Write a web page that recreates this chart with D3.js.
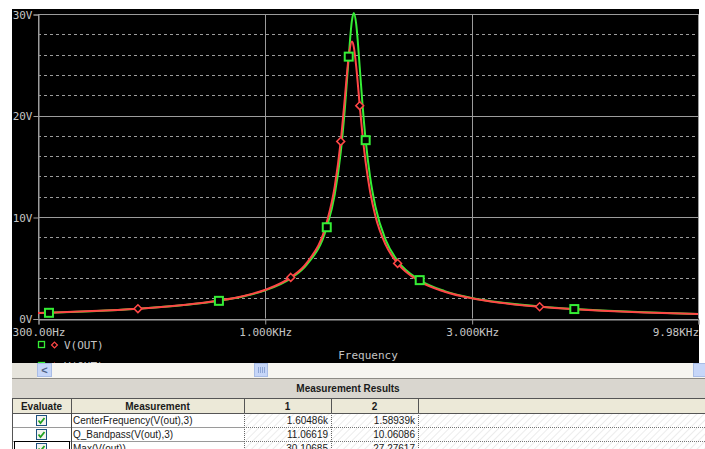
<!DOCTYPE html>
<html>
<head>
<meta charset="utf-8">
<script src="https://cdnjs.cloudflare.com/ajax/libs/d3/7.8.5/d3.min.js"></script>
<style>
  body { margin: 0; background: #fff; }
  svg { display: block; }
</style>
</head>
<body>
<svg id="chart"></svg>
<script>
// Sweep points (Hz)
const freq = [300, 318, 400, 510, 650, 784, 900, 1000, 1148, 1250, 1390, 1450, 1497, 1530, 1562, 1589, 1605, 1625, 1656, 1680, 1709, 1750, 1800, 1900, 2025, 2277, 2600, 3000, 3500, 4305, 5175, 6000, 7500, 9980];
// V(OUT) run 1 (green) and run 2 (red), volts
const vGreen = [0.53, 0.56, 0.72, 0.96, 1.32, 1.74, 2.22, 2.76, 3.95, 5.30, 8.99, 12.21, 16.37, 20.66, 25.8, 29.38, 30.1, 29.03, 24.74, 21.17, 17.57, 13.92, 11.01, 7.75, 5.69, 3.78, 2.70, 2.03, 1.58, 1.18, 0.93, 0.78, 0.61, 0.45];
const vRed = [0.53, 0.57, 0.73, 0.97, 1.33, 1.77, 2.25, 2.81, 4.05, 5.48, 9.47, 13.0, 17.45, 21.7, 25.79, 27.28, 26.74, 24.86, 20.97, 18.15, 15.37, 12.48, 10.08, 7.27, 5.43, 3.66, 2.64, 1.99, 1.55, 1.16, 0.92, 0.77, 0.60, 0.44];
// where the trace symbols sit
const greenMarks = [318, 784, 1390, 1562, 1709, 2277, 5175];
const redMarks = [510, 1148, 1497, 1656, 2025, 4305];

const xTicks = [300, 1000, 3000, 9980];
const xTickLabels = ["300.00Hz", "1.000KHz", "3.000KHz", "9.98KHz"];
const yTicks = [0, 10, 20, 30];

// measurement table
const columns = ["Evaluate", "Measurement", "1", "2"];
const measNames = ["CenterFrequency(V(out),3)", "Q_Bandpass(V(out),3)", "Max(V(out))"];
const run1 = ["1.60486k", "11.06619", "30.10685"];
const run2 = ["1.58939k", "10.06086", "27.27617"];

const W = 705, H = 449;
const plot = { left: 38, right: 698, top: 14, bottom: 318.5 };
const mono = "'DejaVu Sans Mono', 'Liberation Mono', monospace";
const sans = "Tahoma, 'Liberation Sans', Arial, sans-serif";
const gridCol = "#9c9c9c";
const txtCol = "#c4c4c4";
const green = "#35ee35";
const red = "#ff4646";

const svg = d3.select("#chart").attr("width", W).attr("height", H);

// black probe window
svg.append("rect").attr("x", 12).attr("y", 9).attr("width", 687).attr("height", 354).attr("fill", "#000");

const x = d3.scaleLog().domain([300, 9980]).range([plot.left, plot.right]);
const y = d3.scaleLinear().domain([0, 30]).range([plot.bottom, plot.top]);

// minor dashed grid every 2V
const minor = d3.range(0, 31, 2).filter((v) => v % 10 != 0);
svg.append("g").selectAll("line").data(minor).enter().append("line")
  .attr("x1", plot.left).attr("x2", plot.right)
  .attr("y1", (d) => Math.round(y(d)) + 0.5).attr("y2", (d) => Math.round(y(d)) + 0.5)
  .attr("stroke", gridCol).attr("stroke-dasharray", "3,3");

// major solid grid
svg.append("g").selectAll("line").data(yTicks).enter().append("line")
  .attr("x1", plot.left).attr("x2", plot.right)
  .attr("y1", (d) => Math.round(y(d)) + 0.5).attr("y2", (d) => Math.round(y(d)) + 0.5)
  .attr("stroke", gridCol);
svg.append("g").selectAll("line").data(xTicks).enter().append("line")
  .attr("x1", (d) => Math.round(x(d)) + 0.5).attr("x2", (d) => Math.round(x(d)) + 0.5)
  .attr("y1", plot.top).attr("y2", plot.bottom)
  .attr("stroke", gridCol);

// Y axis
const yAxis = d3.axisLeft(y).tickValues(yTicks).tickSize(5).tickPadding(1).tickFormat((d) => d + "V");
svg.append("g")
  .attr("transform", `translate(${plot.left + 0.5}, 0.5)`)
  .call(yAxis)
  .call((g) => g.select(".domain").attr("stroke", gridCol))
  .call((g) => g.selectAll(".tick line").attr("stroke", gridCol))
  .selectAll("text")
  .attr("fill", txtCol).attr("font-family", mono).attr("font-size", 11);

// X axis
const xAxis = d3.axisBottom(x).tickValues(xTicks).tickSize(5).tickPadding(4)
  .tickFormat((d, i) => xTickLabels[i]);
svg.append("g")
  .attr("transform", `translate(0.5, ${Math.round(plot.bottom) + 0.5})`)
  .call(xAxis)
  .call((g) => g.select(".domain").attr("stroke", gridCol))
  .call((g) => g.selectAll(".tick line").attr("stroke", gridCol))
  .selectAll("text")
  .attr("fill", txtCol).attr("font-family", mono).attr("font-size", 11)
  .attr("text-anchor", (d, i) => (i == xTicks.length - 1 ? "end" : "middle"));

// traces
const clip = svg.append("clipPath").attr("id", "plotclip").append("rect")
  .attr("x", plot.left).attr("y", plot.top - 2).attr("width", plot.right - plot.left).attr("height", plot.bottom - plot.top + 4);

const line = d3.line().curve(d3.curveMonotoneX).x((d) => x(d[0])).y((d) => y(d[1]));
const traces = svg.append("g").attr("clip-path", "url(#plotclip)");
traces.append("path").datum(freq.map((f, i) => [f, vGreen[i]]))
  .attr("d", line).attr("fill", "none").attr("stroke", green).attr("stroke-width", 2);
traces.append("path").datum(freq.map((f, i) => [f, vRed[i]]))
  .attr("d", line).attr("fill", "none").attr("stroke", red).attr("stroke-width", 2);

// symbols
svg.append("g").selectAll("rect").data(greenMarks).enter().append("rect")
  .attr("x", (d) => x(d) - 4).attr("y", (d) => y(vGreen[freq.indexOf(d)]) - 4)
  .attr("width", 8).attr("height", 8)
  .attr("fill", "#000").attr("stroke", green).attr("stroke-width", 2);
const diamond = d3.symbol().type(d3.symbolDiamond2).size(40);
svg.append("g").selectAll("path").data(redMarks).enter().append("path")
  .attr("d", diamond)
  .attr("transform", (d) => `translate(${x(d)}, ${y(vRed[freq.indexOf(d)])})`)
  .attr("fill", "#000").attr("stroke", red).attr("stroke-width", 1.5);

// legend (second row is cut by the scrollbar)
const legend = svg.append("g");
[345, 366].forEach((ly) => {
  legend.append("rect").attr("x", 38.5).attr("y", ly - 3.5).attr("width", 6).attr("height", 6)
    .attr("fill", "none").attr("stroke", green).attr("stroke-width", 1.3);
  legend.append("path").attr("d", d3.symbol().type(d3.symbolDiamond2).size(22))
    .attr("transform", `translate(54.5, ${ly})`)
    .attr("fill", "none").attr("stroke", red).attr("stroke-width", 1.2);
  legend.append("text").attr("x", 64).attr("y", ly + 4).text("V(OUT)")
    .attr("fill", txtCol).attr("font-family", mono).attr("font-size", 11);
});

svg.append("text").attr("x", 368).attr("y", 359).attr("text-anchor", "middle")
  .text("Frequency").attr("fill", txtCol).attr("font-family", mono).attr("font-size", 11);

// scrollbar
const sb = svg.append("g");
sb.append("rect").attr("x", 12).attr("y", 363).attr("width", 693).attr("height", 15).attr("fill", "#e6e4dc");
sb.append("rect").attr("x", 37).attr("y", 363).attr("width", 668).attr("height", 15).attr("fill", "#f6f5f0");
sb.append("rect").attr("x", 37.5).attr("y", 363.5).attr("width", 14).attr("height", 13)
  .attr("fill", "#c6d6f8").attr("stroke", "#a9bde6");
sb.append("text").attr("x", 44.5).attr("y", 374).attr("text-anchor", "middle").text("<")
  .attr("font-family", sans).attr("font-size", 11).attr("font-weight", "bold").attr("fill", "#4d6185");
sb.append("rect").attr("x", 254.5).attr("y", 363.5).attr("width", 13).attr("height", 13)
  .attr("fill", "#c6d6f8").attr("stroke", "#a9bde6");
[258, 260, 262, 264].forEach((gx) => {
  sb.append("line").attr("x1", gx + 0.5).attr("x2", gx + 0.5).attr("y1", 367).attr("y2", 373).attr("stroke", "#8ea6d6");
});
sb.append("rect").attr("x", 693.5).attr("y", 363.5).attr("width", 14).attr("height", 13)
  .attr("fill", "#c6d6f8").attr("stroke", "#a9bde6");

// measurement results table
const colX = [12, 71, 244, 331, 418, 705];
const rowY = [398, 413, 427, 441, 455];
const tbl = svg.append("g").attr("font-family", sans).attr("font-size", 10);

const pat = svg.append("defs").append("pattern").attr("id", "hatch")
  .attr("patternUnits", "userSpaceOnUse").attr("width", 5).attr("height", 5)
  .attr("patternTransform", "rotate(45)");
pat.append("rect").attr("width", 5).attr("height", 5).attr("fill", "#fff");
pat.append("line").attr("x1", 0).attr("y1", 0).attr("x2", 0).attr("y2", 5).attr("stroke", "#dadada").attr("stroke-width", 1);

tbl.append("rect").attr("x", 12).attr("y", 378).attr("width", 693).attr("height", 20).attr("fill", "#d9d6cf");
tbl.append("line").attr("x1", 12).attr("x2", 705).attr("y1", 378.5).attr("y2", 378.5).attr("stroke", "#8c8a84");
tbl.append("text").attr("x", 348).attr("y", 392).attr("text-anchor", "middle")
  .attr("font-weight", "bold").attr("fill", "#1a1a1a").text("Measurement Results");

// header
tbl.append("rect").attr("x", 12).attr("y", rowY[0]).attr("width", 693).attr("height", 15).attr("fill", "#ece9d8");
tbl.append("line").attr("x1", 12).attr("x2", 705).attr("y1", 398.5).attr("y2", 398.5).attr("stroke", "#555");
tbl.append("line").attr("x1", 12).attr("x2", 705).attr("y1", 413.5).attr("y2", 413.5).attr("stroke", "#555");
columns.forEach((c, i) => {
  tbl.append("text").attr("x", (colX[i] + colX[i + 1]) / 2).attr("y", 410).attr("text-anchor", "middle")
    .attr("font-weight", "bold").attr("fill", "#1a1a1a").text(c);
});

// body cells
measNames.forEach((m, r) => {
  const y0 = rowY[r + 1] + 1, h = rowY[r + 2] - rowY[r + 1] - 1;
  tbl.append("rect").attr("x", colX[0]).attr("y", y0).attr("width", colX[2] - colX[0]).attr("height", h).attr("fill", "#fff");
  tbl.append("rect").attr("x", colX[2]).attr("y", y0).attr("width", colX[5] - colX[2]).attr("height", h).attr("fill", "url(#hatch)");
  // checkbox
  const cx = 41.5, cy = y0 + h / 2;
  tbl.append("rect").attr("x", cx - 5).attr("y", cy - 5).attr("width", 10).attr("height", 10)
    .attr("fill", "#f4f4f0").attr("stroke", "#1c5180");
  tbl.append("path").attr("d", `M${cx - 3},${cy} L${cx - 1},${cy + 2.5} L${cx + 3},${cy - 2.5}`)
    .attr("fill", "none").attr("stroke", "#21a121").attr("stroke-width", 1.8);
  tbl.append("text").attr("x", colX[1] + 2).attr("y", y0 + 10).attr("fill", "#1a1a1a").text(m);
  tbl.append("text").attr("x", colX[3] - 3).attr("y", y0 + 10).attr("text-anchor", "end").attr("fill", "#1a1a1a").text(run1[r]);
  tbl.append("text").attr("x", colX[4] - 3).attr("y", y0 + 10).attr("text-anchor", "end").attr("fill", "#1a1a1a").text(run2[r]);
  tbl.append("line").attr("x1", colX[0]).attr("x2", colX[2]).attr("y1", rowY[r + 2] + 0.5).attr("y2", rowY[r + 2] + 0.5).attr("stroke", "#9a9a9a");
  tbl.append("line").attr("x1", colX[2]).attr("x2", colX[5]).attr("y1", rowY[r + 2] + 0.5).attr("y2", rowY[r + 2] + 0.5)
    .attr("stroke", "#777").attr("stroke-dasharray", "1,1");
});

// column separators
colX.slice(1, 5).forEach((cx, i) => {
  tbl.append("line").attr("x1", cx + 0.5).attr("x2", cx + 0.5).attr("y1", 398).attr("y2", 413).attr("stroke", "#555");
  tbl.append("line").attr("x1", cx + 0.5).attr("x2", cx + 0.5).attr("y1", 413).attr("y2", H)
    .attr("stroke", i >= 1 ? "#666" : "#444").attr("stroke-dasharray", i >= 1 ? "1,1" : null);
});
tbl.append("line").attr("x1", 12.5).attr("x2", 12.5).attr("y1", 398).attr("y2", H).attr("stroke", "#555");

// focus frame on the last evaluate cell
tbl.append("rect").attr("x", 14.5).attr("y", 441.5).attr("width", 55).attr("height", 12)
  .attr("fill", "none").attr("stroke", "#000").attr("stroke-width", 1);
</script>
</body>
</html>
